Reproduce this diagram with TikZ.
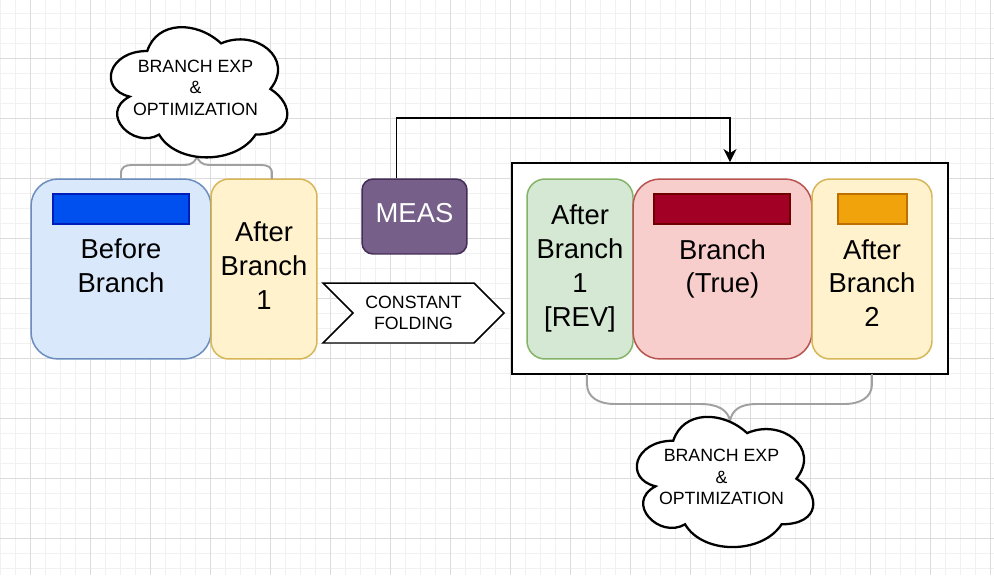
\documentclass[tikz,border=0pt]{standalone}
\usepackage{fontspec}
\setmainfont{Liberation Sans}
\usepackage{tikz}
\usetikzlibrary{arrows.meta,shapes.symbols}
\usepackage{xcolor}

\definecolor{bbfill}{HTML}{DAE8FC}
\definecolor{bbline}{HTML}{6C8EBF}
\definecolor{ylfill}{HTML}{FFF2CC}
\definecolor{ylline}{HTML}{D6B656}
\definecolor{grfill}{HTML}{D5E8D4}
\definecolor{grline}{HTML}{82B366}
\definecolor{rdfill}{HTML}{F8CECC}
\definecolor{rdline}{HTML}{B85450}
\definecolor{measfill}{HTML}{76608A}
\definecolor{measline}{HTML}{432D57}
\definecolor{bluebar}{HTML}{0050EF}
\definecolor{bluebarline}{HTML}{001DBC}
\definecolor{redbar}{HTML}{A20025}
\definecolor{redbarline}{HTML}{6F0000}
\definecolor{orangebar}{HTML}{F0A30A}
\definecolor{orangebarline}{HTML}{BD7000}
\definecolor{curlygray}{HTML}{A0A0A0}
\definecolor{minorgray}{HTML}{F1F1F1}
\definecolor{majorgray}{HTML}{DCDCDC}

\newcommand{\boxfont}{\fontsize{15.6pt}{19.3pt}\selectfont}
\newcommand{\tagfont}{\fontsize{10.1pt}{12.2pt}\selectfont}

% cloud outline round a named coordinate
\newcommand{\drawcloud}[1]{%
  \draw[cloudline, shift={(#1)}, x=3.94cm, y=-3.04cm]
    (-0.25,-0.25) .. controls (-0.45,-0.25) and (-0.5,0) .. (-0.34,0.05)
    .. controls (-0.5,0.16) and (-0.32,0.4) .. (-0.19,0.3)
    .. controls (-0.1,0.5) and (0.2,0.5) .. (0.3,0.3)
    .. controls (0.5,0.3) and (0.5,0.1) .. (0.375,0)
    .. controls (0.5,-0.2) and (0.3,-0.4) .. (0.125,-0.3)
    .. controls (0,-0.45) and (-0.2,-0.45) .. (-0.25,-0.25) -- cycle;}

\tikzset{
  minorgrid/.style={minorgray, line width=0.6pt},
  majorgrid/.style={majorgray, line width=0.6pt},
  block/.style={draw, line width=0.85pt, minimum height=3.6cm, inner sep=0},
  bluebox/.style={block, fill=bbfill, draw=bbline, rounded corners=0.54cm, minimum width=3.6cm},
  yelbox/.style={block, fill=ylfill, draw=ylline, rounded corners=0.36cm},
  greenbox/.style={block, fill=grfill, draw=grline, rounded corners=0.36cm, minimum width=2.12cm},
  redbox/.style={block, fill=rdfill, draw=rdline, rounded corners=0.54cm, minimum width=3.58cm},
  colbar/.style={draw, line width=0.85pt, minimum height=0.6cm, inner sep=0},
  measbox/.style={draw=measline, fill=measfill, line width=0.85pt, rounded corners=0.22cm,
    minimum width=2.1cm, minimum height=1.5cm, inner sep=0},
  stepbox/.style={signal, signal to=east, signal from=west, signal pointer angle=90,
    draw, fill=white, line width=0.85pt, minimum width=3.62cm, minimum height=1.2cm,
    inner sep=0, align=center, font=\tagfont},
  container/.style={draw, fill=white, line width=1.1pt, minimum width=8.72cm,
    minimum height=4.22cm, inner sep=0},
  lbl/.style={align=center, inner sep=0, font=\boxfont},
  cloudtext/.style={align=center, inner sep=0, font=\tagfont},
  cloudline/.style={draw, fill=white, line width=1.3pt},
  curly/.style={curlygray, line width=1.1pt},
  arr/.style={line width=1.1pt, -{Stealth[length=0.26cm, width=0.26cm, inset=0.08cm]}}
}

\begin{document}
\begin{tikzpicture}[x=0.02cm, y=-0.02cm]
  \fill[white] (0,0) rectangle (994,575);
  \useasboundingbox (0,0) rectangle (994,575);

  % grid
  \foreach \x in {0.3,15.3,...,994} \draw[minorgrid] (\x,0) -- (\x,575);
  \foreach \y in {13.6,28.6,...,575} \draw[minorgrid] (0,\y) -- (994,\y);
  \foreach \x in {30.3,90.3,...,994} \draw[majorgrid] (\x,0) -- (\x,575);
  \foreach \y in {58.6,118.6,...,575} \draw[majorgrid] (0,\y) -- (994,\y);

  % before the folding
  \node[bluebox] (bb) at (121,269) {};
  \node[yelbox, minimum width=2.12cm] (ab1) at (264,269) {};
  \node[colbar, fill=bluebar, draw=bluebarline, minimum width=2.72cm] (bbbar) at (121,209) {};
  \node[lbl] (bbt) at (121,266) {Before\\Branch};
  \node[lbl] (ab1t) at (264,265.7) {After\\Branch\\1};

  % after the folding
  \node[container] (grp) at (730,268.5) {};
  \node[greenbox] (abrev) at (580,269) {};
  \node[redbox] (bt) at (722.5,269) {};
  \node[yelbox, minimum width=2.4cm] (ab2) at (872,269) {};
  \node[colbar, fill=redbar, draw=redbarline, minimum width=2.72cm] (btbar) at (722,209) {};
  \node[colbar, fill=orangebar, draw=orangebarline, minimum width=1.38cm] (ab2bar) at (872.5,209) {};
  \node[lbl] (abrevt) at (580,268.2) {After\\Branch\\1\\{[REV]}};
  \node[lbl] (btt) at (722.5,268.9) {Branch\\(True)};
  \node[lbl] (ab2t) at (872,283) {After\\Branch\\2};

  \node[measbox] (meas) at (414.5,216.5) {};
  \node[lbl, text=white] (meast) at (414.5,213) {MEAS};
  \node[stepbox] (cf) at (413.5,313) {CONSTANT\\FOLDING};

  % braces
  \draw[curly] (bb.north) -- (121,174) .. controls (121,167) and (125,165) .. (132,165)
    -- (185,165) .. controls (192,165) and (196,161) .. (197,156)
    .. controls (198,161) and (202,165) .. (209,165) -- (261,165)
    .. controls (268,165) and (272,167) .. (272,174) -- (272,179);
  \draw[curly] (587,374) -- (587,384) .. controls (587,397) and (598,404) .. (615,404)
    -- (700,404) .. controls (718,404) and (728,410) .. (730,421)
    .. controls (732,410) and (740,404) .. (757,404) -- (844,404)
    .. controls (861,404) and (872,397) .. (872,384) -- (872,374);

  % clouds
  \coordinate (cl1c) at (196.5,89);
  \coordinate (cl2c) at (722.5,478.7);
  \drawcloud{cl1c}
  \drawcloud{cl2c}
  \node[cloudtext] (cl1) at (195.5,87.5) {BRANCH EXP\\\&\\OPTIMIZATION};
  \node[cloudtext] (cl2) at (721.5,477) {BRANCH EXP\\\&\\OPTIMIZATION};

  \draw[arr] ([xshift=-0.36cm]meas.north) -- ++(0,-60) -| (grp.north);
\end{tikzpicture}
\end{document}
